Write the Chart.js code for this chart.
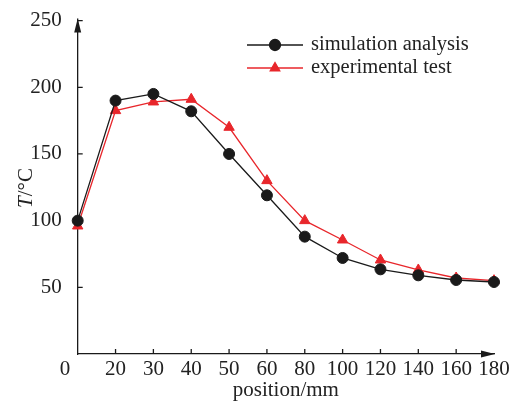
<!DOCTYPE html>
<html>
<head>
<meta charset="utf-8">
<script src="https://cdn.jsdelivr.net/npm/chart.js@4.4.1/dist/chart.umd.min.js"></script>
<style>
  html, body { margin: 0; padding: 0; background: #fff; }
  #wrap { width: 519px; height: 403px; position: relative; }
</style>
</head>
<body>
<div id="wrap"><canvas id="c"></canvas></div>
<script>
// positions along the part (mm) and temperatures (°C)
const positions = ['0', '20', '30', '40', '50', '60', '80', '100', '120', '140', '160', '180'];
const simulation = [100, 190, 195, 182, 150, 119, 88, 72, 63.5, 59, 55.5, 54];
const experiment = [96, 182.5, 189, 191, 170, 130, 100, 85.5, 70.5, 63, 57, 55];
const yTicks = [50, 100, 150, 200, 250];

const BLACK = '#1a1a1a';
const RED = '#e8262b';
const FONT = '"Liberation Serif", "Times New Roman", serif';

// axis arrows, inner ticks, origin label, y title and legend
const decor = {
  id: 'decor',
  afterDraw(chart) {
    const { ctx, scales: { x, y } } = chart;
    const x0 = x.left, y0 = y.bottom;
    ctx.save();
    ctx.strokeStyle = BLACK;
    ctx.fillStyle = BLACK;
    ctx.lineWidth = 1.3;

    // y axis extension + arrow
    ctx.beginPath();
    ctx.moveTo(x0, y.top); ctx.lineTo(x0, y.top - 2); ctx.stroke();
    ctx.beginPath();
    ctx.moveTo(x0, y.top - 2);
    ctx.lineTo(x0 - 3.5, y.top + 12);
    ctx.lineTo(x0 + 3.5, y.top + 12);
    ctx.closePath(); ctx.fill();

    // x axis arrow
    ctx.beginPath();
    ctx.moveTo(x.right + 1, y0);
    ctx.lineTo(x.right - 13, y0 - 3.5);
    ctx.lineTo(x.right - 13, y0 + 3.5);
    ctx.closePath(); ctx.fill();

    // inner ticks
    ctx.beginPath();
    for (let i = 1; i < positions.length - 1; i++) {
      const px = x.getPixelForValue(i);
      ctx.moveTo(px, y0); ctx.lineTo(px, y0 - 5);
    }
    yTicks.forEach(v => {
      const py = y.getPixelForValue(v);
      ctx.moveTo(x0, py); ctx.lineTo(x0 + 5, py);
    });
    ctx.stroke();

    // origin label
    ctx.fillStyle = '#222';
    ctx.font = '21px ' + FONT;
    ctx.textAlign = 'center';
    ctx.textBaseline = 'middle';
    ctx.fillText('0', 65, 369);

    // y title: italic T + /°C
    ctx.save();
    ctx.translate(26, 188);
    ctx.rotate(-Math.PI / 2);
    ctx.textAlign = 'left';
    ctx.font = 'italic 21px ' + FONT;
    const tW = ctx.measureText('T').width;
    ctx.font = '21px ' + FONT;
    const rW = ctx.measureText('/°C').width;
    const sx = -(tW + rW) / 2;
    ctx.font = 'italic 21px ' + FONT;
    ctx.fillText('T', sx, 0);
    ctx.font = '21px ' + FONT;
    ctx.fillText('/°C', sx + tW, 0);
    ctx.restore();

    // legend
    const items = [
      { label: 'simulation analysis', color: BLACK, style: 'circle', y: 45 },
      { label: 'experimental test', color: RED, style: 'triangle', y: 68 }
    ];
    ctx.font = '20.5px ' + FONT;
    ctx.textAlign = 'left';
    ctx.textBaseline = 'middle';
    items.forEach(it => {
      ctx.strokeStyle = it.color;
      ctx.fillStyle = it.color;
      ctx.lineWidth = 1.3;
      ctx.beginPath();
      ctx.moveTo(247, it.y); ctx.lineTo(303, it.y); ctx.stroke();
      Chart.helpers.drawPoint(ctx, { pointStyle: it.style, radius: 5.5, borderWidth: 1 }, 275, it.y);
      ctx.fillStyle = '#222';
      ctx.fillText(it.label, 311, it.y);
    });
    ctx.restore();
  }
};

new Chart(document.getElementById('c'), {
  type: 'line',
  data: {
    labels: positions,
    datasets: [
      {
        label: 'simulation analysis',
        data: simulation,
        borderColor: BLACK,
        backgroundColor: BLACK,
        borderWidth: 1.3,
        pointStyle: 'circle',
        pointRadius: 5.5,
        pointBorderWidth: 1,
        tension: 0,
        clip: false,
      },
      {
        label: 'experimental test',
        data: experiment,
        borderColor: RED,
        backgroundColor: RED,
        borderWidth: 1.3,
        pointStyle: 'triangle',
        pointRadius: 6,
        pointBorderWidth: 1,
        tension: 0,
        clip: false,
      }
    ]
  },
  options: {
    responsive: true,
    maintainAspectRatio: false,
    animation: false,
    devicePixelRatio: 1,
    layout: { padding: { left: 0, right: 25, top: 20, bottom: 0 } },
    plugins: {
      legend: { display: false },
      tooltip: { enabled: false }
    },
    scales: {
      x: {
        type: 'category',
        offset: false,
        grid: { display: false },
        border: { display: true, color: BLACK, width: 1.3 },
        ticks: {
          color: '#222',
          font: { family: FONT, size: 21 },
          padding: -5,
          maxRotation: 0,
          autoSkip: false,
          callback: (v, i) => i === 0 ? '' : positions[i]
        },
        title: {
          display: true,
          text: 'position/mm',
          color: '#222',
          font: { family: FONT, size: 21 },
          padding: { top: 0, bottom: 0 }
        },
        afterFit: s => { s.height = 49; }
      },
      y: {
        min: 0,
        max: 250,
        grid: { display: false },
        border: { display: true, color: BLACK, width: 1.3 },
        ticks: {
          stepSize: 50,
          color: '#222',
          font: { family: FONT, size: 21 },
          padding: 8,
          callback: v => v === 0 ? '' : v
        },
        afterFit: s => { s.width = 77.7; }
      }
    }
  },
  plugins: [decor]
});
</script>
</body>
</html>
